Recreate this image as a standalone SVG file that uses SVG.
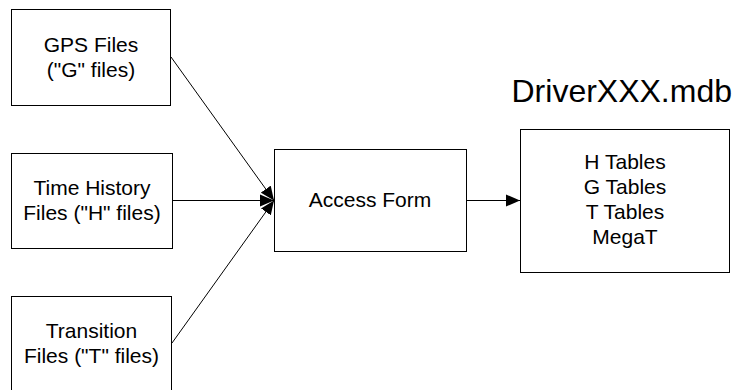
<svg xmlns="http://www.w3.org/2000/svg" width="733" height="390" viewBox="0 0 733 390">
<defs>
<style>
.box{fill:#fff;stroke:#000;stroke-width:1}
.t{font-family:"Liberation Sans",Arial,sans-serif;font-size:21px;fill:#000;text-anchor:middle}
.c{stroke:#000;stroke-width:1;fill:none}
</style>
<marker id="ah" markerUnits="userSpaceOnUse" markerWidth="15" markerHeight="13" refX="14" refY="6.5" orient="auto">
<path d="M0,0.5 L14,6.5 L0,12.5 z" fill="#000"/>
</marker>
</defs>
<rect width="733" height="390" fill="#fff"/>
<g id="connectors">
<line class="c" x1="171" y1="57" x2="274" y2="200.5" marker-end="url(#ah)"/>
<line class="c" x1="173" y1="200.5" x2="274" y2="200.5" marker-end="url(#ah)"/>
<line class="c" x1="172" y1="343" x2="274" y2="200.5" marker-end="url(#ah)"/>
<line class="c" x1="467" y1="200.5" x2="520" y2="200.5" marker-end="url(#ah)"/>
</g>
<g id="gps">
<rect class="box" x="11.5" y="9.5" width="159" height="96"/>
<text class="t" x="91" y="52">GPS Files</text>
<text class="t" x="91" y="77">("G" files)</text>
</g>
<g id="timehistory">
<rect class="box" x="11.5" y="153.5" width="161" height="95"/>
<text class="t" x="92" y="195">Time History</text>
<text class="t" x="92" y="220">Files ("H" files)</text>
</g>
<g id="transition">
<rect class="box" x="11.5" y="296.5" width="160" height="110"/>
<text class="t" x="91.5" y="338">Transition</text>
<text class="t" x="91.5" y="363">Files ("T" files)</text>
</g>
<g id="accessform">
<rect class="box" x="274.5" y="149.5" width="192" height="102"/>
<text class="t" x="370" y="207">Access Form</text>
</g>
<g id="mdb">
<text x="732" y="102" font-family="'Liberation Sans',Arial,sans-serif" font-size="32" text-anchor="end" fill="#000">DriverXXX.mdb</text>
<rect class="box" x="520.5" y="129.5" width="209" height="143"/>
<text class="t" x="625" y="169">H Tables</text>
<text class="t" x="625" y="194">G Tables</text>
<text class="t" x="625" y="219">T Tables</text>
<text class="t" x="625" y="244">MegaT</text>
</g>
</svg>
